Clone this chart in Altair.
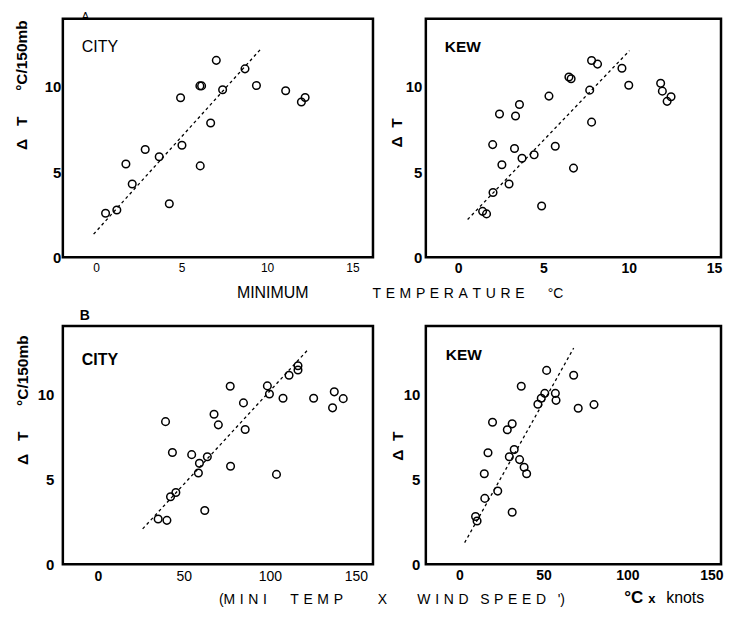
import altair as alt
import pandas as pd

# ---- data ----
city_a_x = [0.55, 1.21, 1.74, 2.11, 2.87, 3.69, 4.28, 4.94, 5.02, 6.07, 6.17, 6.09, 6.70, 7.03, 7.40, 8.71, 9.38, 11.09, 12.01, 12.23]
city_a_y = [2.58, 2.77, 5.47, 4.30, 6.32, 5.90, 3.14, 9.36, 6.57, 10.06, 10.06, 5.36, 7.88, 11.56, 9.83, 11.06, 10.08, 9.77, 9.11, 9.38]
city_a_line_x = [-0.15, 9.7]
city_a_line_y = [1.35, 12.3]

kew_a_x = [1.43, 1.66, 2.04, 2.02, 2.42, 2.56, 2.98, 3.30, 3.36, 3.59, 3.74, 4.45, 4.89, 5.32, 5.69, 6.49, 6.62, 6.76,
           7.71, 7.82, 7.82, 8.17, 9.60, 10.00, 11.87, 11.97, 12.25, 12.48]
kew_a_y = [2.69, 2.54, 3.80, 6.61, 8.41, 5.43, 4.30, 6.38, 8.29, 8.97, 5.81, 6.01, 3.00, 9.46, 6.51, 10.58, 10.48, 5.23,
           9.81, 11.55, 7.93, 11.34, 11.10, 10.10, 10.21, 9.75, 9.15, 9.42]
kew_a_line_x = [0.55, 10.04]
kew_a_line_y = [2.21, 12.13]

city_b_x = [35.1, 40.2, 39.4, 42.3, 45.4, 43.4, 54.6, 58.5, 59.1, 62.2, 63.7, 67.6, 70.1, 77.2, 77.0, 84.7, 85.7,
            98.6, 99.8, 103.9, 107.7, 111.2, 116.4, 116.4, 125.5, 137.5, 136.5, 142.7]
city_b_y = [2.66, 2.58, 8.38, 3.97, 4.22, 6.57, 6.44, 5.36, 5.93, 3.16, 6.32, 8.81, 8.19, 5.76, 10.46, 9.48, 7.92,
            10.48, 10.00, 5.28, 9.75, 11.10, 11.66, 11.41, 9.75, 10.13, 9.19, 9.73]
city_b_line_x = [26.1, 121.6]
city_b_line_y = [2.08, 12.54]

kew_b_x = [9.6, 10.5, 15.1, 14.8, 17.0, 19.7, 22.8, 28.5, 29.7, 31.4, 31.4, 32.6, 35.8, 36.8, 38.5, 40.0, 46.7,
           48.7, 50.8, 51.9, 57.1, 57.5, 68.0, 70.7, 80.1]
kew_b_y = [2.81, 2.54, 3.87, 5.32, 6.55, 8.34, 4.30, 7.90, 6.32, 8.25, 3.06, 6.74, 6.15, 10.46, 5.70, 5.32, 9.40,
           9.75, 10.04, 11.39, 10.04, 9.63, 11.10, 9.17, 9.38]
kew_b_line_x = [3.1, 68.0]
kew_b_line_y = [1.27, 12.70]

ticks_a = [0, 5, 10, 15]
ticks_b = [0, 50, 100, 150]
ticks_y = [0, 5, 10]

FONT = "Liberation Sans"
WL, WR, H = 311, 296, 239
S = "\u00a0"   # non-breaking space (word gaps)
L = "\u2004"   # three-per-em space (letter spacing)


def spaced(word):
    return L.join(list(word))


def txt(t, x, y, size, weight):
    return alt.Chart(pd.DataFrame({"t": [t]})).mark_text(
        font=FONT, fontSize=size, fontWeight=weight, align="left", baseline="alphabetic", color="black"
    ).encode(x=alt.value(x), y=alt.value(y), text="t:N")


def panel(px, py, lx, ly, xdom, xticks, width, xaxis, yaxis, extras, head):
    pts = pd.DataFrame({"x": px, "y": py})
    ln = pd.DataFrame({"x": lx, "y": ly})
    xenc = alt.X("x:Q", scale=alt.Scale(domain=xdom, nice=False, zero=False),
                 axis=alt.Axis(values=xticks, domain=False, grid=False, ticks=False, labelColor="black",
                               titleColor="black", labelFont=FONT, titleFont=FONT, **xaxis))
    yenc = alt.Y("y:Q", scale=alt.Scale(domain=[0, 14], nice=False, zero=False),
                 axis=alt.Axis(values=ticks_y, domain=False, grid=False, ticks=False, labelColor="black",
                               titleColor="black", labelFont=FONT, titleFont=FONT,
                               labelFontWeight="bold", labelFontSize=15,
                               titleAngle=270, titleAlign="center",
                               titleBaseline="middle", titleFontWeight="bold", titleFontSize=15.5,
                               **yaxis))
    line = alt.Chart(ln).mark_line(color="black", strokeDash=[3, 3], strokeWidth=1.3).encode(x=xenc, y=yenc)
    points = alt.Chart(pts).mark_point(shape="circle", filled=False, color="black",
                                       size=58, strokeWidth=1.5, opacity=1).encode(x=xenc, y=yenc)
    ch = alt.layer(line, points, *extras).properties(width=width, height=H)
    if head is not None:
        ch = ch.properties(title=head)
    return ch


ytitle_left = "Δ" + S * 3 + "T" + S * 6 + "°C/150mb"
ytitle_right = "Δ" + S * 2 + "T"

tl = panel(city_a_x, city_a_y, city_a_line_x, city_a_line_y, [-1.95, 16.2], ticks_a, WL,
           dict(labelFontSize=12, labelFontWeight="normal", labelPadding=5,
                title="MINIMUM", titleX=210, titleY=40, titleAlign="center", titleBaseline="alphabetic",
                titleFontSize=16, titleFontWeight="normal"),
           dict(labelPadding=2, title=ytitle_left, titleX=-41, titleY=66),
           [txt("CITY", 19, 33, 16, "normal")],
           alt.TitleParams("A", anchor="start", frame="group", dx=19, fontSize=11, fontWeight="normal",
                           font=FONT, offset=-3, color="black"))

tr = panel(kew_a_x, kew_a_y, kew_a_line_x, kew_a_line_y, [-1.9, 15.41], ticks_a, WR,
           dict(labelFontSize=14, labelFontWeight="bold", labelPadding=4,
                title=spaced("TEMPERATURE") + S * 6 + "°C", titleX=-54, titleY=40, titleAlign="left",
                titleBaseline="alphabetic", titleFontSize=14, titleFontWeight="normal"),
           dict(labelPadding=4, title=ytitle_right, titleX=-29.5, titleY=114),
           [txt("KEW", 19, 33, 15.5, "bold")],
           None)

bl = panel(city_b_x, city_b_y, city_b_line_x, city_b_line_y, [-20.3, 160], ticks_b, WL,
           dict(labelFontSize=14,
                labelFontWeight=alt.ExprRef(expr="datum.value == 0 ? 'bold' : 'normal'"),
                labelPadding=5,
                title="(" + spaced("MINI") + S * 6 + spaced("TEMP") + S * 9 + "X",
                titleX=156, titleY=39, titleAlign="left",
                titleBaseline="alphabetic", titleFontSize=14, titleFontWeight="normal"),
           dict(labelPadding=9, title=ytitle_left, titleX=-40, titleY=74),
           [txt("CITY", 19, 39, 16, "bold")],
           alt.TitleParams("B", anchor="start", frame="group", dx=17, fontSize=14, fontWeight="bold",
                           font=FONT, offset=3, color="black"))

br = panel(kew_b_x, kew_b_y, kew_b_line_x, kew_b_line_y, [-20, 155.7], ticks_b, WR,
           dict(labelFontSize=14, labelFontWeight="bold", labelPadding=4,
                title=spaced("WIND") + S * 3 + spaced("SPEED") + S * 3 + "')",
                titleX=-9, titleY=39,
                titleAlign="left", titleBaseline="alphabetic", titleFontSize=14, titleFontWeight="normal"),
           dict(labelPadding=6, title=ytitle_right, titleX=-28.5, titleY=120),
           [txt("KEW", 20, 34, 15.5, "bold"),
            txt("°C", 199, H + 39, 17, "bold"),
            txt("x", 223, H + 39, 13, "bold"),
            txt("knots", 241, H + 39, 16, "normal")],
           None)

chart = alt.concat(tl, tr, bl, br, columns=2, spacing={"row": 69, "column": 53}, bounds="flush").properties(
    padding={"left": 5, "top": 0, "right": 0, "bottom": 0}
).configure(font=FONT, background="white").configure_view(stroke="black", strokeWidth=2.5)

chart.save("out.html", embed_options={"renderer": "svg", "actions": False})
